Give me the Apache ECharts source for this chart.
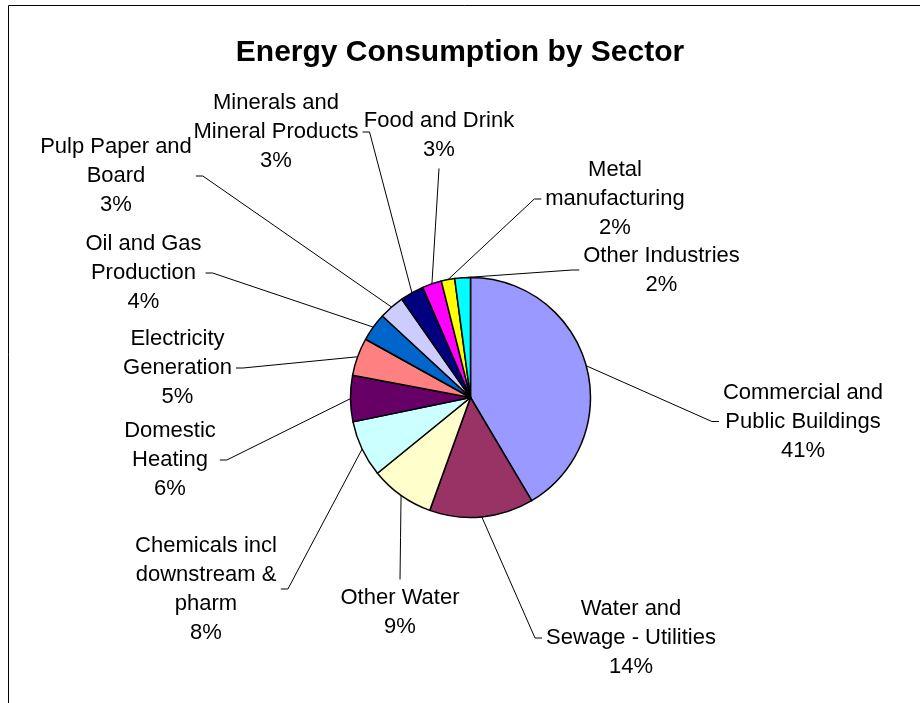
<!DOCTYPE html>
<html>
<head>
<meta charset="utf-8">
<script src="https://cdn.jsdelivr.net/npm/echarts@6/dist/echarts.min.js"></script>
<style>
html,body{margin:0;padding:0;background:#fff;}
#chart{width:920px;height:703px;}
</style>
</head>
<body>
<div id="chart"></div>
<script>
// ---- data ----
const titleText = 'Energy Consumption by Sector';
const categories = [
  'Commercial and\nPublic Buildings',
  'Water and\nSewage - Utilities',
  'Other Water',
  'Chemicals incl\ndownstream &\npharm',
  'Domestic\nHeating',
  'Electricity\nGeneration',
  'Oil and Gas\nProduction',
  'Pulp Paper and\nBoard',
  'Minerals and\nMineral Products',
  'Food and Drink',
  'Metal\nmanufacturing',
  'Other Industries'
];
const shares = [41.4, 14.0, 8.6, 7.6, 6.2, 5.1, 3.8, 3.4, 3.2, 2.6, 1.8, 2.1];
const colors = ['#9999FF', '#993366', '#FFFFCC', '#CCFFFF', '#660066', '#FF8080',
                '#0066CC', '#CCCCFF', '#000080', '#FF00FF', '#FFFF00', '#00FFFF'];

// ---- label placement (layout, not data) ----
const labelAnchors = [
  [803, 421.5, 'left'],
  [631, 638, 'left'],
  [400, 612.5, 'top'],
  [206, 589, 'right'],
  [170, 460, 'right'],
  [177.5, 368, 'right'],
  [143.5, 273, 'right'],
  [116, 176, 'right'],
  [276, 132, 'right'],
  [439, 135.5, 'bottom'],
  [615, 199, 'left'],
  [661.5, 270, 'left']
];

const FONT = '"Liberation Sans", Arial, Helvetica, sans-serif';
const chart = echarts.init(document.getElementById('chart'), null, {renderer: 'canvas'});

const option = {
  backgroundColor: '#ffffff',
  animation: false,
  graphic: [{
    type: 'rect',
    shape: {x: 8.5, y: 5.5, width: 1000, height: 1000},
    style: {fill: 'none', stroke: '#000', lineWidth: 1},
    silent: true, z: -10
  }],
  title: {
    text: titleText,
    left: 'center',
    top: 33,
    textStyle: {fontFamily: FONT, fontSize: 30, fontWeight: 'bold', color: '#000'}
  },
  series: [{
    type: 'pie',
    center: [470.5, 397.5],
    radius: 120,
    startAngle: 90,
    clockwise: true,
    avoidLabelOverlap: false,
    emphasis: {disabled: true},
    data: categories.map((c, i) => ({
      name: c, value: shares[i],
      itemStyle: {color: colors[i]}
    })),
    itemStyle: {borderColor: '#000', borderWidth: 1.5},
    label: {
      show: true,
      position: 'outside',
      fontFamily: FONT,
      fontSize: 22,
      lineHeight: 29,
      color: '#000',
      align: 'center',
      formatter: p => p.name + '\n' + Math.round(p.percent) + '%'
    },
    labelLine: {
      show: true, length: 10, length2: 10,
      lineStyle: {color: '#000', width: 1}
    },
    labelLayout: function (p) {
      const a = labelAnchors[p.dataIndex];
      const w = p.labelRect.width, h = p.labelRect.height;
      const cx = a[0], cy = a[1];
      const s = p.labelLinePoints[0];
      const gap = 4, tick = 7;
      let end, bend;
      if (a[2] === 'left') {
        end = [cx - w / 2 - gap, cy]; bend = [end[0] - tick, cy];
      } else if (a[2] === 'right') {
        end = [cx + w / 2 + gap, cy]; bend = [end[0] + tick, cy];
      } else if (a[2] === 'top') {
        end = [cx, cy - h / 2 - gap]; bend = [(s[0] + end[0]) / 2, (s[1] + end[1]) / 2];
      } else {
        end = [cx, cy + h / 2 + gap]; bend = [(s[0] + end[0]) / 2, (s[1] + end[1]) / 2];
      }
      return {
        x: cx, y: cy, align: 'center', verticalAlign: 'middle',
        labelLinePoints: [s, bend, end]
      };
    }
  }]
};
chart.setOption(option);
</script>
</body>
</html>
